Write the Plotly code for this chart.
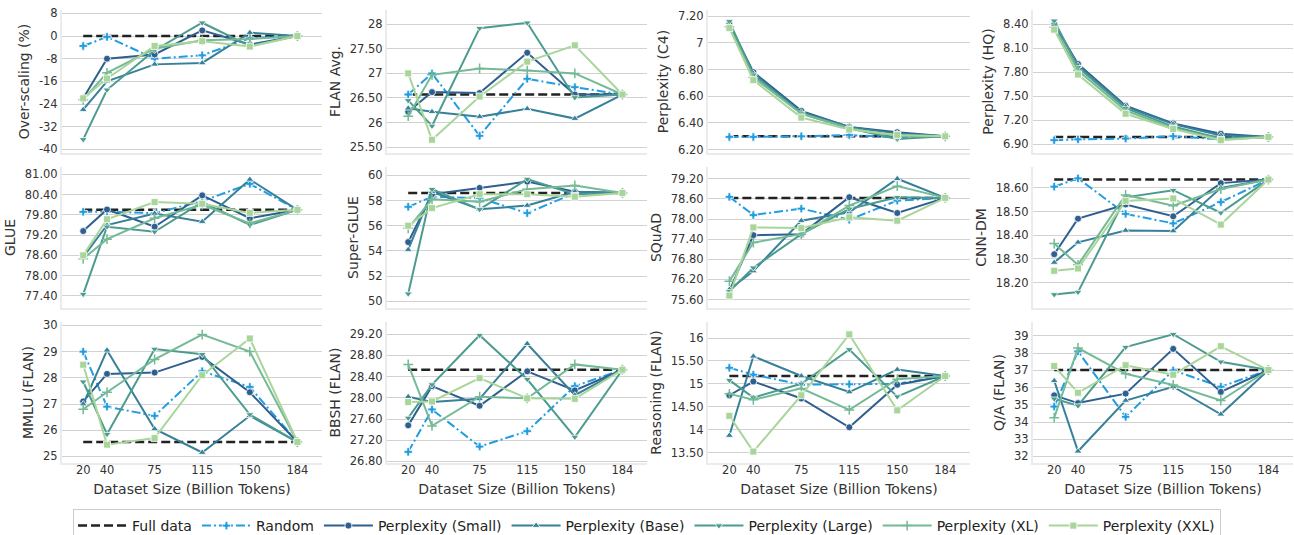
import plotly.graph_objects as go

# ---------------- data ----------------
x_vals = [18.4, 36.8, 73.6, 110.4, 147.2, 184]
x_ticklabels = ["20", "40", "75", "115", "150", "184"]

series_names = ["Random", "Perplexity (Small)", "Perplexity (Base)",
                "Perplexity (Large)", "Perplexity (XL)", "Perplexity (XXL)"]

panel_titles = ["Over-scaling (%)", "FLAN Avg.", "Perplexity (C4)", "Perplexity (HQ)",
                "GLUE", "Super-GLUE", "SQuAD", "CNN-DM",
                "MMLU (FLAN)", "BBSH (FLAN)", "Reasoning (FLAN)", "Q/A (FLAN)"]

full_data = [0, 26.57, 6.30, 6.99, 79.95, 58.6, 78.63, 18.635, 25.55, 28.53, 15.17, 37.02]

overscaling = [
    [-3.5, -0.3, -8.0, -6.8, -0.8, 0],
    [-22.0, -8.0, -6.5, 2.0, -3.0, 0],
    [-26.0, -16.0, -10.0, -9.5, 1.2, 0],
    [-36.5, -19.0, -5.0, 4.7, -3.5, 0],
    [-22.5, -13.0, -4.5, -1.5, -1.0, 0],
    [-22.0, -15.0, -3.5, -1.8, -3.7, 0],
]
flan_avg = [
    [26.57, 27.00, 25.73, 26.89, 26.72, 26.57],
    [26.22, 26.62, 26.60, 27.42, 26.57, 26.57],
    [26.29, 26.22, 26.12, 26.28, 26.08, 26.57],
    [26.45, 25.93, 27.92, 28.03, 26.51, 26.57],
    [26.13, 26.97, 27.10, 27.06, 27.00, 26.57],
    [27.00, 25.65, 26.53, 27.24, 27.57, 26.57],
]
ppl_c4 = [
    [6.295, 6.295, 6.30, 6.31, 6.29, 6.30],
    [7.14, 6.78, 6.49, 6.37, 6.33, 6.30],
    [7.13, 6.77, 6.48, 6.37, 6.32, 6.30],
    [7.16, 6.76, 6.47, 6.36, 6.28, 6.30],
    [7.12, 6.74, 6.47, 6.36, 6.30, 6.30],
    [7.11, 6.72, 6.44, 6.35, 6.31, 6.30],
]
ppl_hq = [
    [6.95, 6.96, 6.97, 7.00, 6.96, 6.99],
    [8.40, 7.90, 7.38, 7.16, 7.03, 6.99],
    [8.42, 7.88, 7.37, 7.15, 7.01, 6.99],
    [8.44, 7.86, 7.35, 7.12, 6.97, 6.99],
    [8.36, 7.82, 7.32, 7.10, 6.96, 6.99],
    [8.33, 7.77, 7.28, 7.09, 6.95, 6.99],
]
glue = [
    [79.89, 79.90, 79.85, 80.21, 80.72, 79.95],
    [79.32, 79.96, 79.45, 80.38, 79.70, 79.95],
    [78.55, 79.50, 79.84, 79.60, 80.85, 79.95],
    [77.45, 79.45, 79.30, 80.18, 79.50, 79.95],
    [78.50, 79.08, 79.70, 80.10, 79.55, 79.95],
    [78.60, 79.67, 80.18, 80.13, 79.86, 79.95],
]
super_glue = [
    [57.5, 58.3, 58.2, 57.0, 58.6, 58.6],
    [54.7, 58.5, 59.0, 59.5, 58.7, 58.6],
    [54.1, 58.7, 57.3, 57.6, 58.7, 58.6],
    [50.6, 58.9, 57.3, 59.7, 58.5, 58.6],
    [55.8, 58.1, 57.9, 58.9, 59.2, 58.6],
    [56.0, 57.4, 58.5, 58.5, 58.3, 58.6],
]
squad = [
    [78.66, 78.12, 78.31, 77.98, 78.55, 78.63],
    [75.85, 77.52, 77.55, 78.65, 78.18, 78.63],
    [75.90, 76.45, 77.95, 78.20, 79.20, 78.63],
    [75.85, 76.55, 77.55, 78.30, 78.65, 78.63],
    [76.15, 77.30, 77.55, 78.40, 78.98, 78.63],
    [75.72, 77.75, 77.73, 78.05, 77.95, 78.63],
]
cnn_dm = [
    [18.605, 18.640, 18.490, 18.450, 18.540, 18.635],
    [18.320, 18.470, 18.530, 18.480, 18.620, 18.635],
    [18.285, 18.370, 18.420, 18.418, 18.600, 18.635],
    [18.150, 18.160, 18.560, 18.590, 18.495, 18.635],
    [18.365, 18.275, 18.570, 18.525, 18.595, 18.635],
    [18.250, 18.260, 18.545, 18.555, 18.445, 18.635],
]
mmlu = [
    [29.00, 26.90, 26.55, 28.25, 27.65, 25.55],
    [27.10, 28.15, 28.20, 28.80, 27.45, 25.55],
    [27.00, 29.05, 26.05, 25.15, 26.55, 25.55],
    [27.85, 25.85, 29.10, 28.90, 26.60, 25.55],
    [26.80, 27.45, 28.70, 29.65, 29.00, 25.55],
    [28.50, 25.45, 25.70, 28.10, 29.50, 25.55],
]
bbsh = [
    [26.98, 27.78, 27.08, 27.37, 28.22, 28.53],
    [27.48, 28.22, 27.85, 28.50, 28.14, 28.53],
    [28.02, 27.92, 27.98, 29.02, 28.05, 28.53],
    [27.62, 28.25, 29.18, 28.35, 27.26, 28.53],
    [28.63, 27.47, 28.02, 27.99, 28.63, 28.53],
    [27.92, 27.93, 28.37, 27.99, 27.98, 28.53],
]
reasoning = [
    [15.35, 15.20, 14.98, 14.99, 15.00, 15.17],
    [14.75, 15.05, 14.68, 14.05, 14.98, 15.17],
    [13.87, 15.60, 15.17, 14.82, 15.31, 15.17],
    [15.08, 14.70, 15.00, 15.75, 14.72, 15.17],
    [14.78, 14.65, 14.90, 14.43, 15.10, 15.17],
    [14.30, 13.52, 14.75, 16.08, 14.42, 15.17],
]
qa = [
    [34.90, 38.10, 34.30, 37.00, 36.05, 37.02],
    [35.55, 35.10, 35.65, 38.25, 35.75, 37.02],
    [36.40, 32.30, 35.25, 36.05, 34.45, 37.02],
    [35.35, 34.95, 38.35, 39.10, 37.50, 37.02],
    [34.25, 38.30, 36.80, 36.15, 35.25, 37.02],
    [37.25, 35.70, 37.30, 36.75, 38.40, 37.02],
]
panel_data = [overscaling, flan_avg, ppl_c4, ppl_hq, glue, super_glue, squad, cnn_dm,
              mmlu, bbsh, reasoning, qa]

y_tickvals = [
    [-40, -32, -24, -16, -8, 0, 8],
    [25.5, 26, 26.5, 27, 27.5, 28],
    [6.2, 6.4, 6.6, 6.8, 7.0, 7.2],
    [6.9, 7.2, 7.5, 7.8, 8.1, 8.4],
    [77.4, 78.0, 78.6, 79.2, 79.8, 80.4, 81.0],
    [50, 52, 54, 56, 58, 60],
    [75.6, 76.2, 76.8, 77.4, 78.0, 78.6, 79.2],
    [18.2, 18.3, 18.4, 18.5, 18.6],
    [25, 26, 27, 28, 29, 30],
    [26.8, 27.2, 27.6, 28.0, 28.4, 28.8, 29.2],
    [13.5, 14, 14.5, 15, 15.5, 16],
    [32, 33, 34, 35, 36, 37, 38, 39],
]
y_ticktext = [
    ["-40", "-32", "-24", "-16", "-8", "0", "8"],
    ["25.50", "26", "26.50", "27", "27.50", "28"],
    ["6.20", "6.40", "6.60", "6.80", "7", "7.20"],
    ["6.90", "7.20", "7.50", "7.80", "8.10", "8.40"],
    ["77.40", "78.00", "78.60", "79.20", "79.80", "80.40", "81.00"],
    ["50", "52", "54", "56", "58", "60"],
    ["75.60", "76.20", "76.80", "77.40", "78.00", "78.60", "79.20"],
    ["18.20", "18.30", "18.40", "18.50", "18.60"],
    ["25", "26", "27", "28", "29", "30"],
    ["26.80", "27.20", "27.60", "28.00", "28.40", "28.80", "29.20"],
    ["13.50", "14", "14.50", "15", "15.50", "16"],
    ["32", "33", "34", "35", "36", "37", "38", "39"],
]
y_ranges = [
    [-41.3, 9.2], [25.38, 28.29], [6.175, 7.245], [6.79, 8.575],
    [77.04, 81.22], [49.47, 60.66], [75.35, 79.55], [18.093, 18.688],
    [24.75, 30.13], [26.77, 29.43], [13.27, 16.35], [31.62, 39.81],
]

# ---------------- styles ----------------
colors = ["#239de0", "#2f5f8f", "#36809a", "#4c9b8f", "#74ba96", "#a9d59b"]
symbols = ["cross", "circle", "triangle-up", "triangle-down", "cross-thin", "square"]
dashes = ["9px,3px,2px,3px", "solid", "solid", "solid", "solid", "solid"]

W, H = 1294, 535
col_px = [(62, 322), (387, 647), (708, 970), (1033, 1293)]
row_px = [(10, 153), (167, 308), (322, 463)]

fig = go.Figure()
FONT = "DejaVu Sans"

for p in range(12):
    r, c = divmod(p, 4)
    idx = p + 1
    xa = "x" if idx == 1 else f"x{idx}"
    ya = "y" if idx == 1 else f"y{idx}"
    # full data reference
    fig.add_trace(go.Scatter(
        x=[x_vals[0], x_vals[-1]], y=[full_data[p], full_data[p]],
        mode="lines", name="Full data", legendgroup="Full data",
        showlegend=(p == 0),
        line=dict(color="#222222", width=2.5, dash="9px,4px"),
        xaxis=xa, yaxis=ya))
    for s in range(6):
        is_thin = symbols[s] == "cross-thin"
        fig.add_trace(go.Scatter(
            x=x_vals, y=panel_data[p][s],
            mode="lines+markers", name=series_names[s], legendgroup=series_names[s],
            showlegend=(p == 0),
            line=dict(color=colors[s], width=2, dash=dashes[s]),
            marker=dict(symbol=symbols[s], size=7,
                        color=colors[s],
                        line=dict(color=colors[s] if is_thin else "white",
                                  width=1.5 if is_thin else 0.8)),
            xaxis=xa, yaxis=ya))

    x0, x1 = col_px[c]
    y0, y1 = row_px[r]
    bottom = (r == 2)
    fig.layout[f"xaxis{'' if idx == 1 else idx}"] = dict(
        domain=[x0 / W, x1 / W], anchor=ya, range=[2, 203], automargin=False,
        tickvals=x_vals, ticktext=x_ticklabels, showticklabels=bottom,
        ticklabelstandoff=-5,
        showgrid=False, zeroline=False,
        showline=True, linecolor="#ebebeb", linewidth=2,
        ticks="", tickfont=dict(size=11.5, color="#333333", family=FONT),
        title=dict(text="Dataset Size (Billion Tokens)" if bottom else "",
                   font=dict(size=14, color="#333333", family=FONT), standoff=8),
    )
    fig.layout[f"yaxis{'' if idx == 1 else idx}"] = dict(
        domain=[1 - y1 / H, 1 - y0 / H], anchor=xa, range=y_ranges[p], automargin=False,
        tickvals=y_tickvals[p], ticktext=y_ticktext[p],
        showgrid=True, gridcolor="#d2d2d2", gridwidth=1, zeroline=False,
        showline=True, linecolor="#ebebeb", linewidth=2,
        ticks="", tickfont=dict(size=11.5, color="#333333", family=FONT),
        title=dict(text=panel_titles[p], font=dict(size=14, color="#333333", family=FONT),
                   standoff=6),
    )

fig.update_layout(
    width=W, height=H,
    margin=dict(l=0, r=0, t=0, b=0, autoexpand=False),
    paper_bgcolor="white", plot_bgcolor="white",
    font=dict(family=FONT, color="#333333"),
    legend=dict(orientation="h", x=0.5, xanchor="center", y=1 - 509 / H, yanchor="top",
                font=dict(size=14, color="#222222", family=FONT),
                bordercolor="#cccccc", borderwidth=1, bgcolor="white",
                itemwidth=49, tracegroupgap=0),
)

fig.write_html("out.html", config={"displayModeBar": False},
               post_script="document.body.style.margin='0';document.body.style.overflow='hidden';")
